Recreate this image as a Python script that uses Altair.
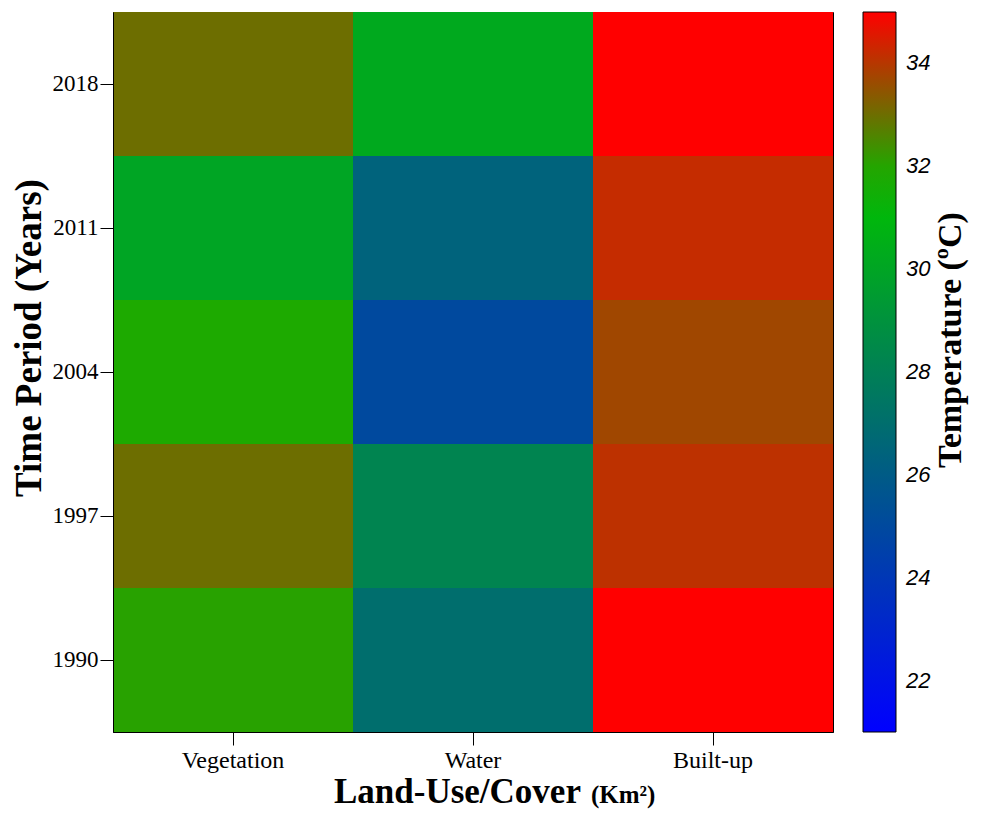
import altair as alt
import pandas as pd

land = ["Vegetation", "Water", "Built-up"]
years = ["2018", "2011", "2004", "1997", "1990"]
# temperatures (°C) per year for each land cover
veg = [33.0, 30.0, 31.9, 33.0, 32.05]
water = [30.25, 26.4, 25.0, 28.2, 27.0]
built = [35.0, 34.2, 33.7, 34.1, 35.0]
legend_ticks = [22, 24, 26, 28, 30, 32, 34]

rows = []
for i, y in enumerate(years):
    rows.append({"Land": "Vegetation", "Year": y, "Temp": veg[i]})
    rows.append({"Land": "Water", "Year": y, "Temp": water[i]})
    rows.append({"Land": "Built-up", "Year": y, "Temp": built[i]})
df = pd.DataFrame(rows)

serif = "Liberation Serif"
W, H = 720, 720

heat = alt.Chart(df).mark_rect().encode(
    x=alt.X("Land:N", sort=land,
            axis=alt.Axis(title=None, labelAngle=0, labelFont=serif,
                          labelFontSize=24, tickSize=13, tickColor="black",
                          domainColor="black", labelColor="black",
                          labelPadding=3)),
    y=alt.Y("Year:N", sort=years,
            axis=alt.Axis(title=None, labelFont=serif,
                          labelFontSize=23, tickSize=13, tickColor="black",
                          domainColor="black", labelColor="black",
                          labelPadding=2)),
    color=alt.Color("Temp:Q",
                    scale=alt.Scale(domain=[21, 31.5, 35],
                                    range=["#0000ff", "#00c000", "#ff0000"],
                                    interpolate="rgb"),
                    legend=alt.Legend(title=None, orient="none", legendX=750, legendY=0,
                                      gradientLength=H, gradientThickness=33,
                                      gradientStrokeColor="black", gradientStrokeWidth=1,
                                      values=legend_ticks,
                                      labelFont="Liberation Sans", labelFontStyle="italic",
                                      labelFontSize=22, labelColor="black",
                                      labelOffset=10, direction="vertical")),
)

one = pd.DataFrame({"k": [0]})

xtitle = alt.Chart(one).mark_text(
    text="Land-Use/Cover", font=serif, fontSize=35, fontWeight="bold",
    align="left", baseline="alphabetic", color="black"
).encode(x=alt.value(221), y=alt.value(791))

xunit = alt.Chart(one).mark_text(
    text="(Km²)", font=serif, fontSize=25, fontWeight="bold",
    align="left", baseline="alphabetic", color="black"
).encode(x=alt.value(478), y=alt.value(791))

ytitle = alt.Chart(one).mark_text(
    text="Time Period (Years)", font=serif, fontSize=37, fontWeight="bold",
    align="center", baseline="middle", angle=270, color="black"
).encode(x=alt.value(-83), y=alt.value(326))

ltitle = alt.Chart(one).mark_text(
    text="Temperature (ºC)", font=serif, fontSize=34, fontWeight="bold",
    align="center", baseline="middle", angle=270, color="black"
).encode(x=alt.value(838), y=alt.value(328))

chart = alt.layer(heat, xtitle, xunit, ytitle, ltitle).properties(
    width=W, height=H,
    autosize=alt.AutoSizeParams(type="none"),
    padding={"left": 105, "top": 4, "right": 140, "bottom": 80},
).configure_view(stroke="black", strokeWidth=1).configure_axis(grid=False)

chart.save("out.html", embed_options={"renderer": "svg", "actions": False})
